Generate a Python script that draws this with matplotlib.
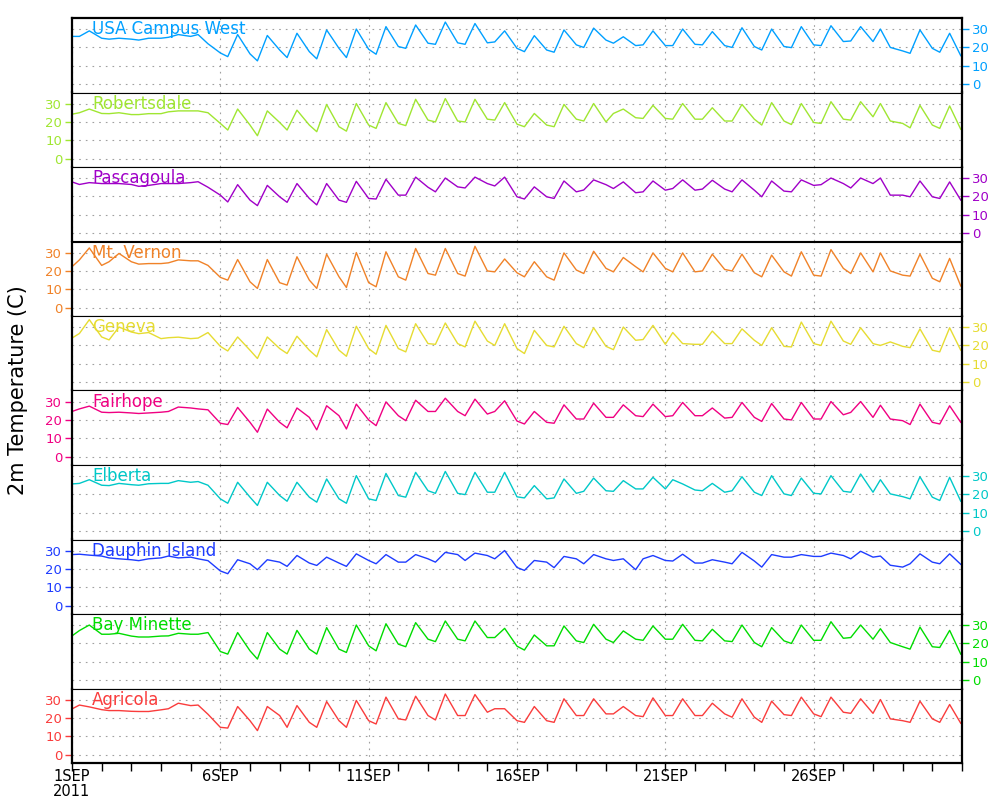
import matplotlib
matplotlib.use('Agg')
import matplotlib.pyplot as plt
import numpy as np

# readings per day at 00Z, 06Z and 14Z (Sep 1 .. Sep 30), plus a last value at the end of Sep 30
hours = [0, 6, 14]

usa_west = [26, 26, 29, 25, 24.5, 25, 24.5, 24, 25, 25, 25.5, 27, 26, 27, 22,
            17, 15, 27, 16.5, 12.7, 26.5, 18.6, 14.5, 27.7, 17.7, 13.8, 29.5, 19.5, 14.5, 30,
            19, 16.3, 31.3, 20.5, 19.5, 32.2, 22.3, 21.7, 33.8, 22.5, 21.7, 33, 22.5, 23, 29,
            19.5, 17.7, 26.4, 18.6, 17.4, 29.5, 21.4, 20, 30.5, 24, 22.3, 25.8, 21, 21.4, 29,
            21, 21, 30, 21.7, 21.4, 28.6, 21, 20, 30.7, 20.5, 18.6, 30, 20.5, 19.9, 31.3,
            21.4, 21, 31.8, 23.2, 23.5, 31.3, 23.2, 30, 20, 18.1, 16.8, 29.5, 19.5, 17.4, 27.7,
            15.5]
robertsdale = [24.2, 25, 27, 24.6, 24.5, 25, 24, 24, 24.5, 24.5, 25.5, 26, 26, 26, 25,
               19.2, 15.6, 27, 18.3, 12.5, 26, 19.7, 15.6, 26.4, 18.3, 14.7, 29.5, 17.4, 15, 30,
               18.3, 16.5, 30.5, 19.2, 18, 32.3, 21, 20, 32.7, 20.5, 20, 32.3, 21.5, 21, 30.5,
               18.8, 17.4, 24.6, 18.3, 17.4, 29.5, 21.5, 20.5, 30, 20, 24.6, 27, 22.3, 21.9, 29,
               21.9, 21.5, 30, 21.5, 21.5, 27.7, 20.5, 20.5, 29.5, 21.5, 18.3, 30.5, 20.5, 18.6, 30,
               19.7, 19.2, 31, 21.5, 21, 31, 22.8, 30, 20.5, 19.2, 16.8, 29, 18.3, 16.5, 28.7,
               16]
pascagoula = [27.9, 26.5, 27.5, 27, 27, 27, 26.5, 25.5, 26, 27, 27, 27, 27.5, 28, 25,
              20.7, 17, 26.4, 18, 15, 26, 19.8, 16.8, 27, 18.9, 15.4, 27, 18, 16.8, 28.2,
              18.9, 18.6, 29.3, 20.7, 20.7, 30.5, 25, 22.5, 30, 25.2, 24.6, 30.5, 27, 25.7, 30.5,
              19.8, 18.6, 25.2, 19.8, 18.9, 28.4, 22.5, 23.5, 29, 26.4, 24.3, 27.9, 22, 22.5, 28.4,
              23.4, 24.3, 29, 23.4, 24, 28.8, 24, 22.5, 29, 23.4, 19.8, 28.4, 22.9, 22.5, 29,
              26, 26.4, 30, 27, 24.6, 30, 27, 30, 20.7, 20.7, 19.8, 28.4, 19.8, 18.9, 27.9,
              18]
mt_vernon = [22.3, 26, 32.5, 23, 25, 29.5, 25, 23.7, 24, 24, 24.4, 26, 25.5, 25.5, 23,
             16.5, 15, 26.2, 14.1, 10.5, 26.2, 13.6, 12.3, 27.7, 15, 10.5, 29.1, 16.8, 11, 30,
             13.6, 11.4, 30.4, 16.8, 15, 32.2, 18.6, 17.7, 32.2, 18.6, 17.2, 33.4, 20, 19.5, 26.5,
             19, 16.8, 25, 16.8, 15, 29.8, 20.5, 18.6, 30.7, 21.4, 19.5, 27.3, 22.3, 19.5, 29.8,
             21.4, 19.5, 29.8, 19.5, 20, 29.1, 20.8, 20, 29.1, 19, 16.8, 28.6, 19.5, 17.2, 30.4,
             17.7, 17.2, 31.6, 21.4, 18.6, 29.8, 19.5, 29.8, 20, 17.7, 17.2, 29.1, 16, 14.1, 26.8,
             11.8]
geneva = [24, 26.5, 34, 24.6, 23, 30, 27.3, 26.4, 27, 23.7, 24.2, 24.5, 23.7, 24, 27,
          19.5, 17, 24.6, 17.4, 12.9, 24.6, 18.3, 15.6, 25, 17.4, 13.8, 28.6, 17.4, 14.1, 30.4,
          18.3, 15.2, 30.9, 18.3, 16.5, 31.8, 21, 20.6, 32.2, 21, 19.2, 33.2, 22.4, 20, 31.8,
          18.3, 15.6, 28.2, 20, 19.2, 30.4, 21, 18.8, 29.6, 19.5, 17.7, 30, 22.8, 23.2, 30.9,
          20.6, 27, 21, 20.6, 20.6, 27.8, 21, 21, 29, 22.8, 20, 29.6, 19.5, 19.2, 32.7,
          21, 20, 33.2, 22.4, 20.6, 29.6, 21, 20, 21.9, 19.5, 18.8, 29, 17.4, 16.5, 29.6,
          17.4]
fairhope = [24.6, 26, 27.5, 24.2, 24, 24.2, 23.8, 23.5, 23.8, 24.2, 24.6, 27, 26.5, 26, 25.5,
            18.2, 17.5, 26.8, 18.7, 13.3, 25.9, 18.7, 15.7, 26.5, 21.4, 14.6, 27.7, 22.3, 15.1, 28.6,
            20, 16.9, 29.8, 22.3, 19.6, 30.7, 24.6, 24.6, 31.8, 24.6, 22.3, 31.3, 23.2, 24.6, 30.4,
            19.4, 17.8, 24.6, 18.7, 18.2, 28.2, 20.5, 20.5, 29.1, 21.4, 21.4, 28.2, 22.3, 21.8, 28.6,
            21.8, 22.3, 29.5, 22.3, 22.3, 26.5, 21, 21.4, 29.5, 21.4, 19.2, 28.9, 20.5, 20, 29.5,
            20.5, 20.5, 30, 22.8, 24.1, 30, 21.4, 28, 20.5, 19.6, 17.5, 28.6, 18.7, 17.8, 27.7,
            18.7]
elberta = [25.7, 26, 28, 25, 24.8, 26, 25.3, 25, 25.8, 26, 26, 27.5, 26.6, 27, 25,
           17.6, 15.2, 26.6, 18.5, 14, 26.6, 19.4, 16.3, 26.6, 18.5, 15.8, 28.4, 17.6, 15.2, 30.2,
           17.6, 16.7, 31.4, 19.4, 18.5, 32, 22, 20.6, 32.5, 20.6, 19.9, 32, 21.2, 21.2, 32,
           18.7, 18.1, 24.8, 17.6, 18.1, 28.4, 20.6, 21.7, 28.9, 22, 21.7, 27.5, 23, 23, 29.3,
           23, 28, 25.7, 22.4, 22, 26, 21.2, 22, 29.6, 21.2, 19.4, 30.2, 20.3, 19.4, 28.9,
           20.6, 20.3, 30.2, 21.7, 21.2, 31.1, 21.2, 28, 20.3, 18.8, 17.6, 29.6, 18.5, 16.7, 29.3,
           16.3]
dauphin = [27.8, 28, 27.5, 27, 26, 25.5, 25, 24.5, 25.5, 26, 27, 26, 26.4, 25.5, 24.5,
           18.9, 17.4, 25, 22.8, 19.6, 25, 23.7, 21.4, 27.3, 23.2, 21.9, 26.4, 23.2, 21.4, 28.2,
           24.6, 22.8, 27.8, 23.7, 23.7, 27.8, 25.5, 23.7, 29, 27.8, 24.6, 28.6, 27.3, 25.5, 30,
           20.8, 19.2, 24.6, 23.7, 20.7, 26.8, 25.5, 22.8, 27.8, 25.5, 24.6, 25.5, 19.6, 25.5, 27.3,
           24.6, 24.3, 28, 23.2, 23.2, 25, 23.7, 22.8, 29, 24.3, 21, 27.8, 26.4, 26.4, 27.8,
           26.8, 26.8, 28.6, 27.3, 25.5, 29.6, 26.4, 27, 22, 21, 22.8, 28.2, 23.7, 22.8, 28.2,
           22.5]
bay_minette = [24.1, 27, 30, 25, 25, 25.5, 24, 23.5, 23.5, 24, 24.1, 25.5, 25, 25, 25.9,
               15.6, 14.2, 25.9, 16, 11.5, 25.9, 16.9, 14.2, 27.1, 16.9, 14.2, 28.6, 16.9, 15.1, 30,
               18.7, 16, 30.7, 19.6, 18.2, 31.3, 22.3, 21, 32.2, 22.3, 21.4, 32.2, 23.2, 23.2, 28.2,
               18.5, 16.4, 24.6, 18.7, 18.7, 29.5, 21.4, 20.5, 30.4, 22.3, 20.5, 26.8, 22.3, 21.7, 29.5,
               22.3, 22.3, 30.4, 21.7, 21.4, 27.7, 21.4, 21, 30, 20.5, 18.2, 28.6, 21.4, 20, 30,
               21.7, 21.7, 31.8, 22.8, 23.2, 30, 22.3, 28, 20.5, 18.2, 16.9, 28.9, 18.2, 17.8, 27.1,
               14.2]
agricola = [24.9, 27, 26, 24.5, 24, 24, 23.6, 23.5, 23.5, 24.4, 25, 28, 26.7, 27, 22,
            14.9, 14.5, 26.2, 18.5, 13.1, 26.2, 21.3, 14.9, 26.7, 17.6, 14.9, 28.9, 18.5, 14.9, 29.5,
            18.5, 16.7, 31.3, 19.5, 18.9, 31.8, 21.3, 18.9, 33, 21.3, 21.3, 32.7, 23.1, 25, 25,
            18.5, 17.6, 26.2, 18.5, 17.6, 30.4, 21.3, 21.3, 30.4, 22.2, 22.2, 26.2, 21.3, 20.7, 30.9,
            21.3, 21.3, 30.4, 21.3, 21.3, 28, 22.2, 20.4, 30.4, 20.4, 17.6, 29.1, 21.8, 21.3, 31.3,
            22.2, 20.7, 31.3, 23.1, 22.5, 30.4, 22.5, 30, 19.5, 18.5, 17.6, 29.1, 19.5, 17.6, 27.3,
            17.1]

stations = ["USA Campus West", "Robertsdale", "Pascagoula", "Mt. Vernon", "Geneva",
            "Fairhope", "Elberta", "Dauphin Island", "Bay Minette", "Agricola"]
series = [usa_west, robertsdale, pascagoula, mt_vernon, geneva,
          fairhope, elberta, dauphin, bay_minette, agricola]
colors = ['#00a0ff', '#a0e632', '#a000c8', '#f08228', '#e6dc32',
          '#f00082', '#00c8c8', '#1e3cff', '#00dc00', '#fa3c3c']

day_ticks = [0, 5, 10, 15, 20, 25]
day_labels = ["1SEP\n2011", "6SEP", "11SEP", "16SEP", "21SEP", "26SEP"]

times = np.array([d + h / 24 for d in range(30) for h in hours] + [30 - 1 / 24])

fig = plt.figure(figsize=(10, 8), dpi=100)
left, right = 0.072, 0.962
top, bottom = 1 - 18 / 800, 1 - 763 / 800
ph = (top - bottom) / len(stations)

for i, (name, vals, c) in enumerate(zip(stations, series, colors)):
    ax = fig.add_axes([left, top - (i + 1) * ph, right - left, ph])
    ax.plot(times, vals, color=c, lw=1.0)
    ax.set_xlim(0, 30)
    ax.set_ylim(-4.5, 36)
    ax.set_yticks([0, 10, 20, 30])
    ax.set_xticks(day_ticks)
    ax.grid(True, color='#a0a0a0', linestyle=(0, (1.5, 4.5)), lw=0.8)

    # y labels alternate between right and left
    ax.tick_params(axis='y', colors=c, labelcolor=c, direction='out',
                   length=5, width=1, labelsize=9.5, pad=2)
    if i % 2 == 0:
        ax.tick_params(axis='y', left=False, labelleft=False, right=True, labelright=True)
    else:
        ax.tick_params(axis='y', left=True, labelleft=True, right=False, labelright=False)

    if i == len(stations) - 1:
        ax.set_xticklabels(day_labels)
        ax.set_xticks(range(31), minor=True)
        ax.tick_params(axis='x', which='both', direction='out', length=6, width=1,
                       labelsize=10.5, pad=-1.5, colors='black')
        for lbl in ax.get_xticklabels():
            lbl.set_linespacing(0.95)
    else:
        ax.tick_params(axis='x', which='both', bottom=False, labelbottom=False)

    for s in ['left', 'right']:
        ax.spines[s].set_linewidth(1.6)
    ax.spines['top'].set_linewidth(1.6 if i == 0 else 0.8)
    ax.spines['bottom'].set_linewidth(1.6 if i == len(stations) - 1 else 0.8)

    ax.text(0.0225, 0.85, name, transform=ax.transAxes, color=c,
            fontsize=12, ha='left', va='center')

fig.text(0.018, 0.5125, "2m Temperature (C)", rotation=90, fontsize=15,
         ha='center', va='center')

fig.savefig('out.png', dpi=100)
